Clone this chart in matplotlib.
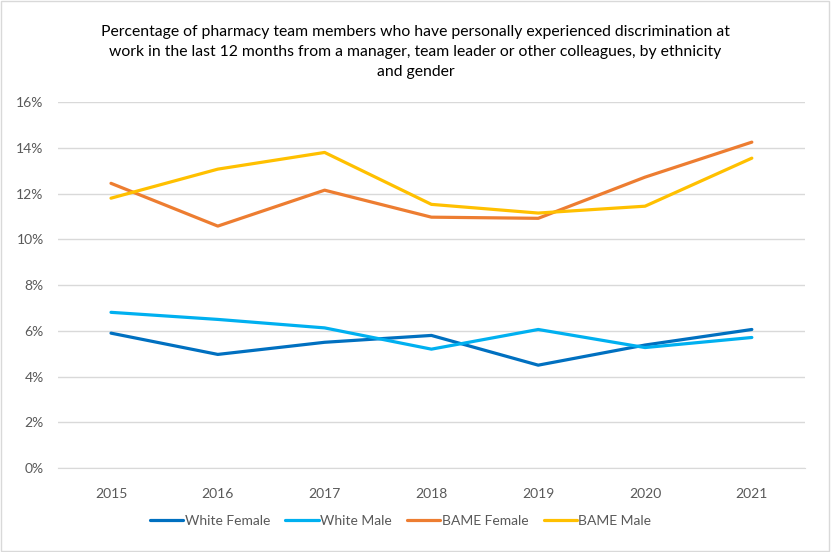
import matplotlib.pyplot as plt
from matplotlib.ticker import FuncFormatter

years = ["2015", "2016", "2017", "2018", "2019", "2020", "2021"]
white_female = [5.9, 4.97, 5.5, 5.8, 4.5, 5.38, 6.06]
white_male = [6.81, 6.5, 6.13, 5.2, 6.06, 5.27, 5.71]
bame_female = [12.45, 10.58, 12.15, 10.97, 10.92, 12.72, 14.25]
bame_male = [11.8, 13.07, 13.8, 11.53, 11.15, 11.45, 13.55]

series = [
    ("White Female", white_female, "#0070C0"),
    ("White Male", white_male, "#00B0F0"),
    ("BAME Female", bame_female, "#ED7D31"),
    ("BAME Male", bame_male, "#FFC000"),
]

plt.rcParams['font.family'] = ['Lato', 'DejaVu Sans']

fig = plt.figure(figsize=(8.31, 5.52), dpi=100)
ax = fig.add_axes([0.0693, 0.152, 0.8997, 0.663])

x = range(len(years))
for nombre, valores, color in series:
    ax.plot(x, valores, color=color, lw=2.3, label=nombre, solid_capstyle='round')

ax.set_xlim(-0.5, len(years) - 0.5)
ax.set_ylim(0, 16)
ax.set_yticks(range(0, 17, 2))
ax.yaxis.set_major_formatter(FuncFormatter(lambda v, p: f"{int(v)}%"))
ax.set_xticks(list(x))
ax.set_xticklabels(years)
ax.grid(axis='y', color='#D9D9D9', lw=1)
ax.set_axisbelow(True)
for s in ['top', 'right', 'left']:
    ax.spines[s].set_visible(False)
ax.spines['bottom'].set_color('#D9D9D9')
ax.tick_params(length=0, labelsize=10, colors='#595959')
ax.tick_params(axis='x', pad=14)
ax.tick_params(axis='y', pad=10)

fig.text(0.5, 0.955, "Percentage of pharmacy team members who have personally experienced discrimination at\n"
         "work in the last 12 months from a manager, team leader or other colleagues, by ethnicity\n"
         "and gender", ha='center', va='top', fontsize=11.3, color='#000000', linespacing=1.55)

fig.legend(loc='center', bbox_to_anchor=(0.482, 0.056), ncol=4, frameon=False,
           fontsize=10, handlelength=2.4, handletextpad=0.1, columnspacing=1.1,
           labelcolor='#595959')

# marco del grafico
fig.patches.append(plt.Rectangle((0.001, 0.001), 0.997, 0.997, transform=fig.transFigure,
                                 fill=False, edgecolor='#D9D9D9', lw=1))

fig.savefig("out.png", dpi=100)
